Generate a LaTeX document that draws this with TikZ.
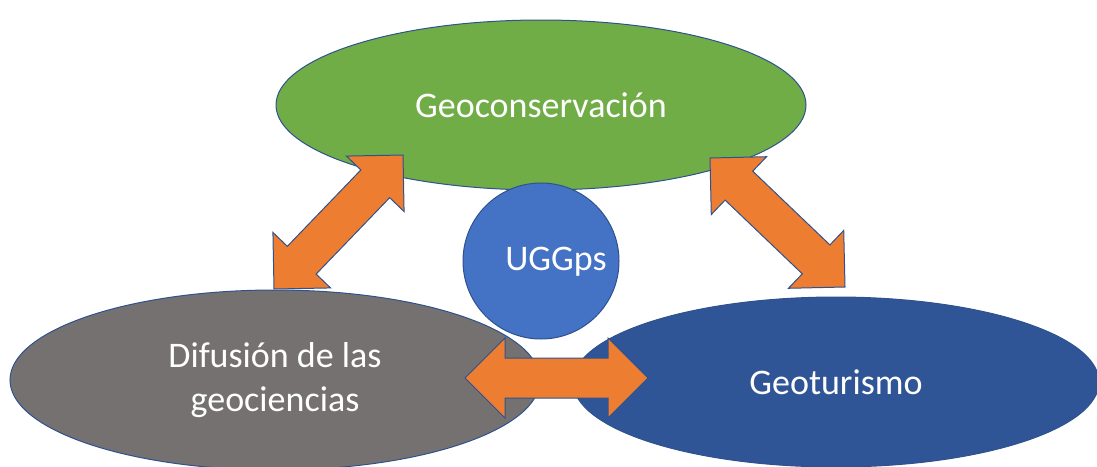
\documentclass[tikz,border=0pt]{standalone}
\usepackage{fontspec}
\setmainfont{Carlito}
\usetikzlibrary{shapes.geometric,calc}
\definecolor{cgreen}{HTML}{70AD47}
\definecolor{cgray}{HTML}{767171}
\definecolor{cdblue}{HTML}{2F5597}
\definecolor{cblue}{HTML}{4472C4}
\definecolor{corange}{HTML}{ED7D31}
\definecolor{cline}{HTML}{2F528F}
\tikzset{
  blob/.style={ellipse, draw=cline, line width=1pt, text=white, align=center,
    font=\fontsize{36}{44}\selectfont, inner sep=0pt},
  dblarrow/.style={fill=corange, draw=cline, line width=1pt, line join=miter},
}
\newcommand{\dblarrowpath}[2]{%
  \draw[dblarrow] (#1)
   -- ($(#1)!56.57pt!45:(#2)$)
   -- ($(#1)!44.72pt!26.57:(#2)$)
   -- ($(#2)!44.72pt!-26.57:(#1)$)
   -- ($(#2)!56.57pt!-45:(#1)$)
   -- (#2)
   -- ($(#2)!56.57pt!45:(#1)$)
   -- ($(#2)!44.72pt!26.57:(#1)$)
   -- ($(#1)!44.72pt!-26.57:(#2)$)
   -- ($(#1)!56.57pt!-45:(#2)$)
   -- cycle;}
\begin{document}
\begin{tikzpicture}[x=1pt,y=-1pt]
\useasboundingbox (0,0) rectangle (1097,466);
\clip (0,0) rectangle (1097,466);
\node[blob, fill=cgreen, minimum width=530pt, minimum height=170pt] (geo) at (541,105) {Geoconservación};
\node[blob, fill=cgray, minimum width=530pt, minimum height=180pt] (dif) at (275,380) {Difusión de las\\geociencias};
\node[blob, fill=cdblue, minimum width=526pt, minimum height=170pt] (tur) at (836,382) {Geoturismo};
\node[circle, draw=cline, line width=1pt, fill=cblue, minimum size=156pt, inner sep=0pt] (ugg) at (541,261) {};
\node[text=white, font=\fontsize{36}{44}\selectfont, inner sep=0pt] (uggtext) at (556,262) {UGGps};
\coordinate (l1) at (274,289);
\coordinate (l2) at (403,155);
\coordinate (r1) at (710,158);
\coordinate (r2) at (845,287);
\coordinate (b1) at (465,378);
\coordinate (b2) at (648,378);
\dblarrowpath{l1}{l2}
\dblarrowpath{r1}{r2}
\dblarrowpath{b1}{b2}
\end{tikzpicture}
\end{document}
